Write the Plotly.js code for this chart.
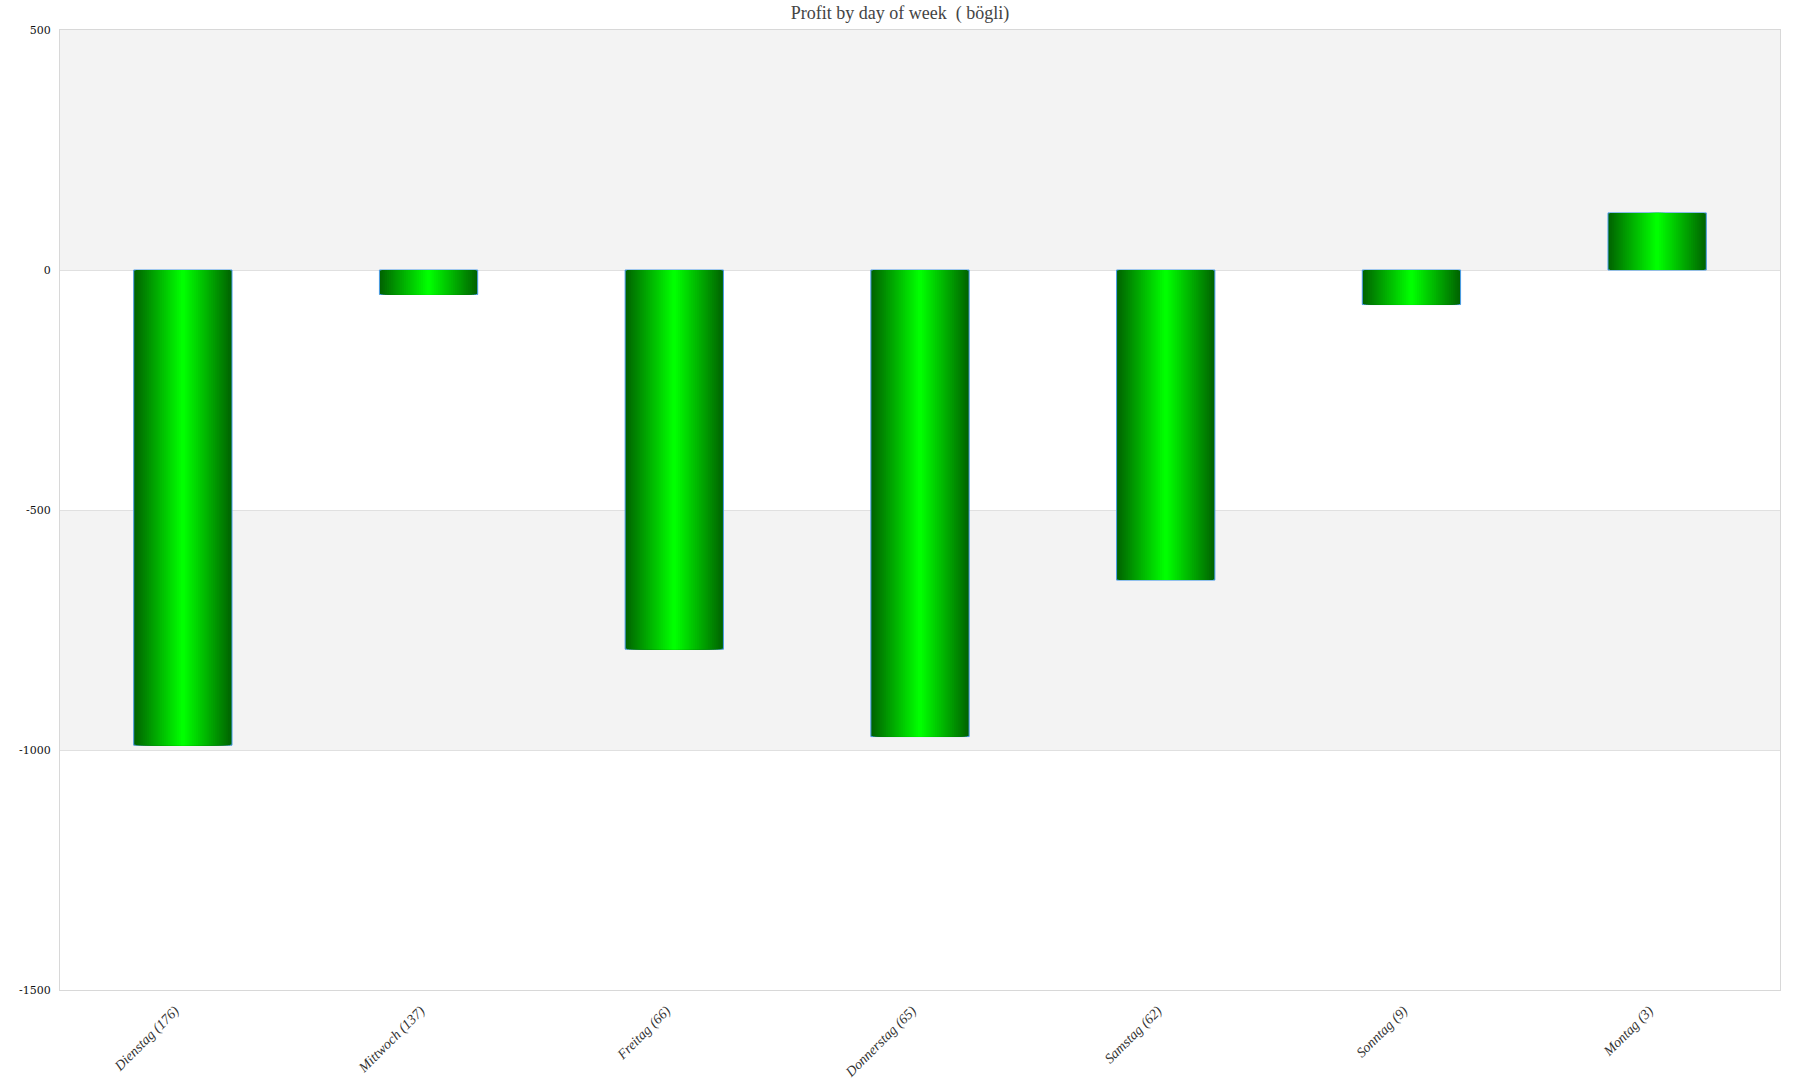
<!DOCTYPE html>
<html>
<head>
<meta charset="utf-8">
<script src="https://cdn.plot.ly/plotly-3.0.1.min.js"></script>
<style>html,body{margin:0;padding:0;background:#fff;}#chart{width:1800px;height:1080px;}</style>
</head>
<body>
<div id="chart"></div>
<script>
const categories = ["Dienstag (176)", "Mittwoch (137)", "Freitag (66)", "Donnerstag (65)", "Samstag (62)", "Sonntag (9)", "Montag (3)"];
const profits = [-990, -51, -790, -972, -646, -72, 119];
const yTickValues = [-1500, -1000, -500, 0, 500];
const yTickLabels = ["-1500", "-1000", "-500", "0", "500"];
const chartTitle = "Profit by day of week  ( bögli)";

const N = 26;
const fullWidth = 0.4;
const traces = [];
for (let i = 0; i < N; i++) {
  const t = i / (N - 1);
  const g = Math.round(100 + (255 - 100) * t);
  const w = fullWidth * (1 - i / N);
  traces.push({
    type: 'bar',
    x: categories,
    y: profits,
    width: categories.map(() => w),
    marker: {
      color: 'rgb(0,' + g + ',0)',
      line: i === 0 ? {color: '#4a9be8', width: 1} : {width: 0}
    },
    hoverinfo: i === 0 ? 'x+y' : 'skip',
    showlegend: false
  });
}

const layout = {
  width: 1800,
  height: 1080,
  margin: {l: 60, r: 20, t: 30, b: 90},
  paper_bgcolor: '#ffffff',
  plot_bgcolor: '#ffffff',
  barmode: 'overlay',
  showlegend: false,
  title: {
    text: chartTitle,
    font: {family: 'Liberation Serif, DejaVu Serif, serif', size: 18, color: '#444444'},
    x: 0.5, xanchor: 'center', y: 0.988, yanchor: 'middle'
  },
  xaxis: {
    type: 'category',
    range: [-0.5, 6.5],
    tickangle: -45,
    tickfont: {family: 'Liberation Serif, DejaVu Serif, serif', size: 14, color: '#333333', style: 'italic'},
    showgrid: false,
    zeroline: false,
    showline: true,
    linecolor: '#d8d8d8',
    linewidth: 1,
    mirror: true,
    ticks: '',
    ticklabelstandoff: 6,
    ticklabelshift: -8,
    fixedrange: true
  },
  yaxis: {
    range: [-1500, 500],
    tickvals: yTickValues,
    ticktext: yTickLabels,
    tickfont: {family: 'DejaVu Serif, serif', size: 11, color: '#111111'},
    showgrid: true,
    gridcolor: '#e0e0e0',
    gridwidth: 1,
    zeroline: false,
    showline: true,
    linecolor: '#d8d8d8',
    linewidth: 1,
    mirror: true,
    ticks: '',
    ticklabelstandoff: 6,
    fixedrange: true
  },
  shapes: [
    {type: 'rect', xref: 'paper', yref: 'y', x0: 0, x1: 1, y0: 0, y1: 500, fillcolor: '#f3f3f3', line: {width: 0}, layer: 'below'},
    {type: 'rect', xref: 'paper', yref: 'y', x0: 0, x1: 1, y0: -1000, y1: -500, fillcolor: '#f3f3f3', line: {width: 0}, layer: 'below'}
  ]
};

Plotly.newPlot('chart', traces, layout, {displayModeBar: false, staticPlot: true});
</script>
</body>
</html>
